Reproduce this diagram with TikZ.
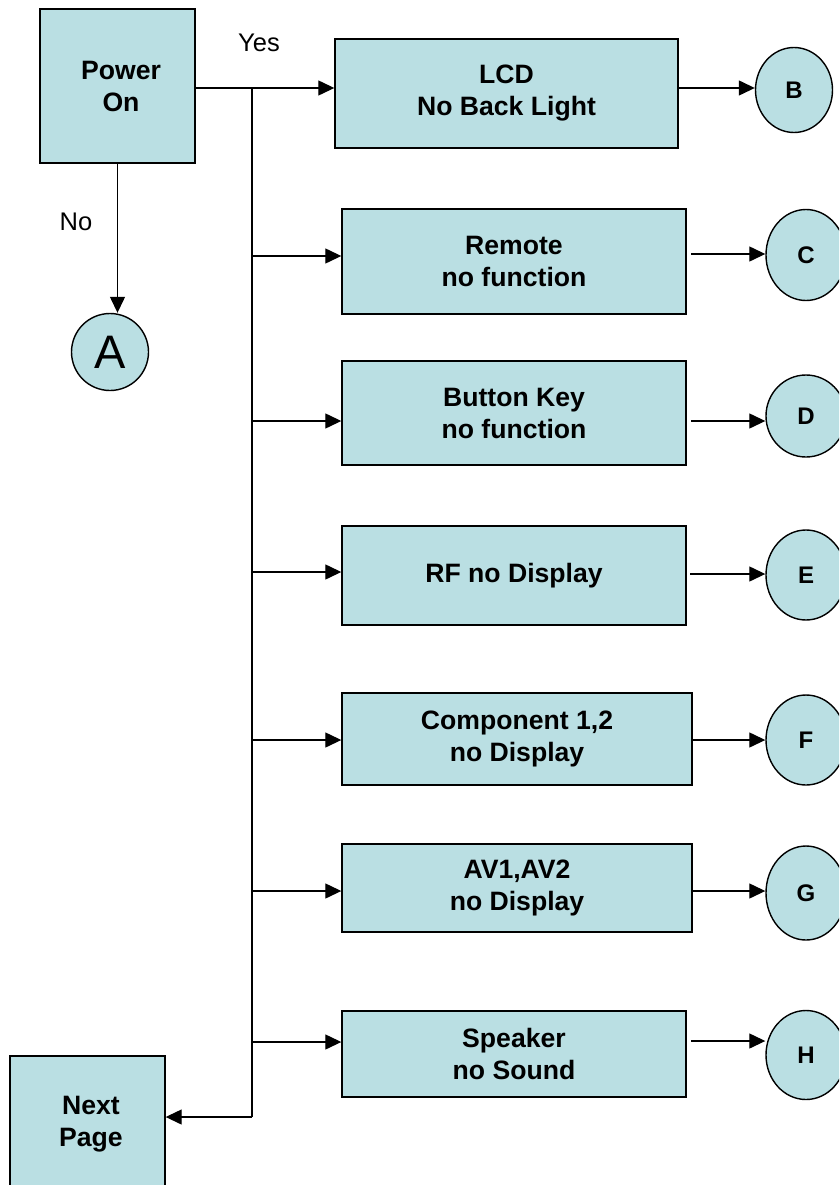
\documentclass[tikz,border=0pt]{standalone}
\usepackage{fontspec}
\setmainfont{Liberation Sans}
\usetikzlibrary{arrows.meta,shapes.geometric}
\definecolor{boxfill}{RGB}{186,223,227}
\begin{document}
\begin{tikzpicture}[x=1pt,y=-1pt,
  box/.style={draw, line width=1.4pt, fill=boxfill, align=center, inner sep=0pt,
              font=\bfseries\fontsize{26.6}{32}\selectfont},
  conn/.style={ellipse, draw, line width=1.4pt, fill=boxfill, inner sep=0pt,
               minimum width=80pt, font=\bfseries\fontsize{24}{28}\selectfont},
  wire/.style={line width=1.3pt},
  arr/.style={wire, -{Triangle[length=16pt,width=15pt]}},
  lbl/.style={font=\fontsize{25.5}{30}\selectfont}]
\useasboundingbox (0,0) rectangle (839,1185);
\clip (0,0) rectangle (839,1185);

% start and end boxes
\node[box, minimum width=155pt, minimum height=154pt] (power) at (117.5,86) {\hspace*{7pt}Power\\\hspace*{7pt}On};
\node[box, minimum width=155pt, minimum height=136pt] (next) at (87.5,1124) {\hspace*{7pt}Next\\\hspace*{7pt}Page};

% fault boxes
\node[box, minimum width=343pt, minimum height=109pt] (lcd)     at (506.5,93.5) {LCD\\No Back Light};
\node[box, minimum width=344pt, minimum height=105pt] (remote)  at (514,261.5) {Remote\\no function};
\node[box, minimum width=344pt, minimum height=104pt] (button)  at (514,413) {Button Key\\no function};
\node[box, minimum width=344pt, minimum height=99pt]  (rf)      at (514,575.5) {RF no Display};
\node[box, minimum width=350pt, minimum height=92pt]  (comp)    at (517,739) {Component 1,2\\no Display};
\node[box, minimum width=350pt, minimum height=88pt]  (av)      at (517,888) {AV1,AV2\\no Display};
\node[box, minimum width=344pt, minimum height=86pt]  (speaker) at (514,1054) {Speaker\\no Sound};

% off-page connectors
\node[circle, draw, line width=1.4pt, fill=boxfill, minimum size=77pt, inner sep=0pt,
      font=\fontsize{47}{50}\selectfont] (a) at (110,352) {A};
\node[conn, minimum width=77pt, minimum height=85pt] (b) at (794,90) {B};
\node[conn, minimum height=91pt] (c) at (806,255)  {C};
\node[conn, minimum height=82pt] (d) at (806,416)  {D};
\node[conn, minimum height=90pt] (e) at (806,575)  {E};
\node[conn, minimum height=90pt] (f) at (806,740)  {F};
\node[conn, minimum height=94pt] (g) at (806,893)  {G};
\node[conn, minimum height=89pt] (h) at (806,1055) {H};

% labels
\node[lbl] (yes) at (259,43) {Yes};
\node[lbl] (no)  at (76,222) {No};

% No branch
\draw[arr] (power.south) -- (power.south |- a.north);

% Yes branch and bus
\coordinate (bustop) at (252,88);
\coordinate (busbot) at (252,1117);
\draw[arr] (power.east |- bustop) -- (bustop -| lcd.west);
\draw[wire] (bustop) -- (busbot);
\draw[arr] (busbot) -- (busbot -| next.east);

% bus taps
\foreach \tgt/\yy in {remote/256, button/421, rf/572, comp/740, av/891, speaker/1042}{
  \coordinate (tap-\tgt) at (252,\yy);
  \draw[arr] (tap-\tgt) -- (tap-\tgt -| \tgt.west);
}

% boxes to connectors
\foreach \xx/\yy/\tgt in {677/88/b, 691/254/c, 691/421/d, 690/574/e, 692/740/f, 692/891/g, 691/1041/h}{
  \coordinate (out-\tgt) at (\xx,\yy);
  \draw[arr] (out-\tgt) -- (out-\tgt -| \tgt.west);
}
\end{tikzpicture}
\end{document}
